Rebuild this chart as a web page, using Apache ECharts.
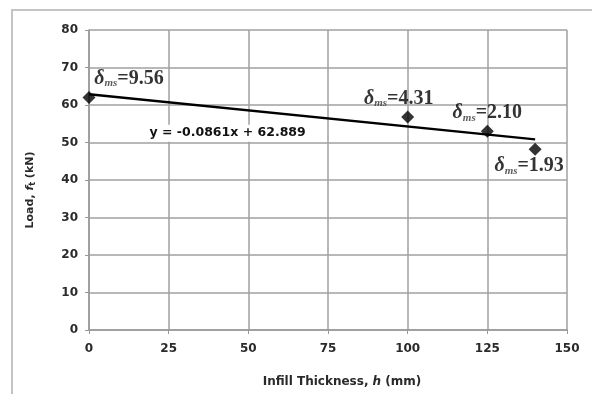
<!DOCTYPE html>
<html>
<head>
<meta charset="utf-8">
<script src="https://cdn.jsdelivr.net/npm/echarts@6/dist/echarts.min.js"></script>
<style>
  html, body { margin: 0; padding: 0; background: #fff; }
  #main { width: 592px; height: 394px; }
</style>
</head>
<body>
<div id="main"></div>
<script>
var chart = echarts.init(document.getElementById('main'));

// measured points
var thickness = [0, 100, 125, 140];
var load = [62, 56.8, 53, 48.2];
var deltaMs = ['9.56', '4.31', '2.10', '1.93'];

// linear fit y = -0.0861x + 62.889
var fitSlope = -0.0861;
var fitIntercept = 62.889;
var fitRange = [0, 140];
var fitText = 'y = -0.0861x + 62.889';
var fitLabelAt = [43.5, 52.5];

var xTicks = [0, 150, 25];
var yTicks = [0, 80, 10];

var labelOffsets = [[40, -19], [-9, -18], [0, -18], [-6, 17]];

var pointData = thickness.map(function (x, i) {
    return {
        value: [x, load[i]],
        label: {
            show: true,
            position: 'inside',
            offset: labelOffsets[i],
            formatter: '{d|δ}{s|ms}{v|=' + deltaMs[i] + '}'
        }
    };
});

var fitData = fitRange.map(function (x) {
    return [x, fitIntercept + fitSlope * x];
});

var sans = 'DejaVu Sans';

var tickFont = {
    color: '#2a2a2a',
    fontSize: 12,
    fontWeight: 'bold',
    fontFamily: sans
};

option = {
    animation: false,
    backgroundColor: '#fff',
    graphic: [
        {
            type: 'rect',
            shape: { x: 12, y: 10, width: 620, height: 420 },
            style: { fill: 'none', stroke: '#c4c4c4', lineWidth: 2 },
            silent: true
        }
    ],
    grid: {
        left: 89,
        right: 25,
        top: 30,
        bottom: 64,
        show: false
    },
    xAxis: {
        type: 'value',
        min: xTicks[0],
        max: xTicks[1],
        interval: xTicks[2],
        name: '{a|Infill Thickness, }{i|h}{a| (mm)}',
        nameLocation: 'middle',
        nameGap: 46,
        nameTextStyle: {
            padding: [0, 0, 0, 28],
            rich: {
                a: { color: '#2a2a2a', fontSize: 12, fontWeight: 'bold', fontFamily: sans },
                i: { color: '#2a2a2a', fontSize: 12, fontWeight: 'bold', fontStyle: 'italic', fontFamily: sans }
            }
        },
        axisLine: { lineStyle: { color: '#999', width: 1.5 } },
        axisTick: { show: true, length: 4, lineStyle: { color: '#999' } },
        axisLabel: Object.assign({ margin: 13 }, tickFont),
        splitLine: { show: true, lineStyle: { color: '#a0a0a0', width: 1.5 } }
    },
    yAxis: {
        type: 'value',
        min: yTicks[0],
        max: yTicks[1],
        interval: yTicks[2],
        name: '{a|Load, }{i|f}{t|t}{a| (kN)}',
        nameLocation: 'middle',
        nameGap: 52,
        nameTextStyle: {
            padding: [0, 0, 0, -20],
            rich: {
                a: { color: '#2a2a2a', fontSize: 11, fontWeight: 'bold', fontFamily: sans },
                i: { color: '#2a2a2a', fontSize: 11, fontWeight: 'bold', fontStyle: 'italic', fontFamily: sans },
                t: { color: '#2a2a2a', fontSize: 8, fontWeight: 'bold', fontFamily: sans, padding: [5, 0, 0, 0] }
            }
        },
        axisLine: { show: true, lineStyle: { color: '#999', width: 1.5 } },
        axisTick: { show: true, length: 4, lineStyle: { color: '#999' } },
        axisLabel: Object.assign({ margin: 11 }, tickFont),
        splitLine: { show: true, lineStyle: { color: '#a0a0a0', width: 1.5 } }
    },
    series: [
        {
            name: 'fit',
            type: 'line',
            data: fitData,
            symbol: 'none',
            lineStyle: { color: '#000', width: 2.5 },
            z: 3,
            markPoint: {
                symbol: 'rect',
                symbolSize: 0,
                data: [{ coord: fitLabelAt }],
                label: {
                    show: true,
                    position: 'inside',
                    formatter: fitText,
                    color: '#111',
                    fontSize: 12.5,
                    fontWeight: 'bold',
                    fontFamily: sans,
                    backgroundColor: '#fff',
                    padding: [2, 3]
                }
            }
        },
        {
            name: 'test',
            type: 'scatter',
            data: pointData,
            symbol: 'diamond',
            symbolSize: 13,
            itemStyle: { color: '#000' },
            z: 4,
            label: {
                rich: {
                    d: {
                        fontFamily: 'Liberation Serif',
                        fontStyle: 'italic',
                        fontWeight: 'bold',
                        fontSize: 20,
                        color: '#000'
                    },
                    s: {
                        fontFamily: 'Liberation Serif',
                        fontStyle: 'italic',
                        fontWeight: 'bold',
                        fontSize: 11,
                        color: '#333',
                        padding: [9, 0, 0, 0]
                    },
                    v: {
                        fontFamily: 'Liberation Serif',
                        fontWeight: 'bold',
                        fontSize: 20,
                        color: '#000'
                    }
                }
            }
        }
    ]
};

chart.setOption(option);
</script>
</body>
</html>
